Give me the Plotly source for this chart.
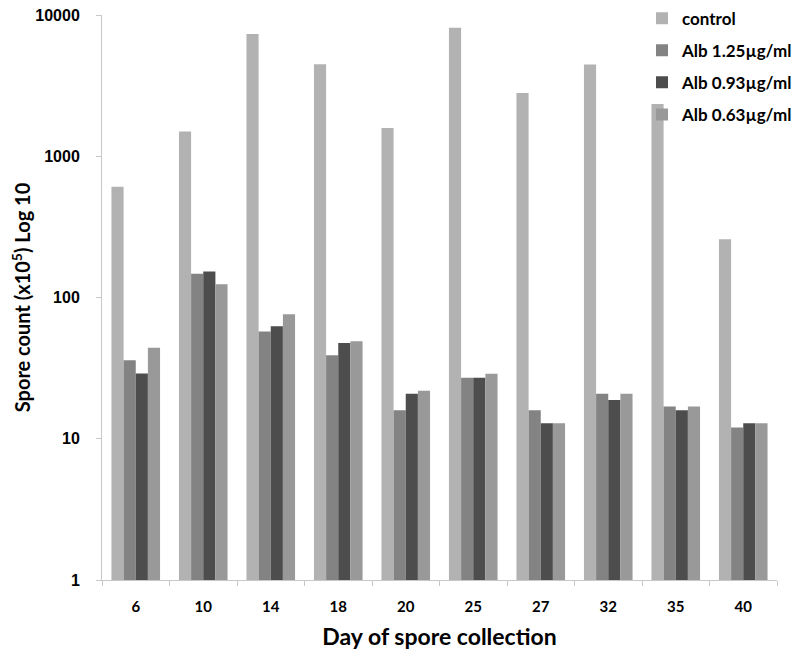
import plotly.graph_objects as go

days = ["6", "10", "14", "18", "20", "25", "27", "32", "35", "40"]
control = [607, 1500, 7350, 4480, 1585, 8130, 2800, 4470, 2340, 258]
alb_125 = [36, 147, 57.5, 39, 15.9, 27, 15.9, 20.8, 16.9, 12]
alb_093 = [29, 153, 62.7, 47.6, 20.8, 27, 12.9, 18.8, 15.9, 12.9]
alb_063 = [44, 124, 76, 49, 21.9, 28.8, 12.9, 20.8, 16.9, 12.9]
y_ticks = [1, 10, 100, 1000, 10000]

series = [
    ("control", control, "#b2b2b2"),
    ("Alb 1.25µg/ml", alb_125, "#838383"),
    ("Alb 0.93µg/ml", alb_093, "#4d4d4d"),
    ("Alb 0.63µg/ml", alb_063, "#999999"),
]

fig = go.Figure()
for i, (name, vals, col) in enumerate(series):
    fig.add_trace(go.Bar(x=days, y=vals, name=name, marker_color=col,
                         marker_line_width=0, legendgroup=f"g{i}"))

# page body has an 8px margin, so the figure is 792x647 drawn at (8, 8)
fig.update_layout(
    width=792, height=647,
    margin=dict(l=94, r=23, t=7, b=75, autoexpand=False),
    plot_bgcolor="white", paper_bgcolor="white",
    barmode="group", bargap=0.28, bargroupgap=0,
    font=dict(family="Lato", color="black"),
    legend=dict(x=0.8, y=1.0255, xanchor="left", yanchor="top",
                font=dict(family="Lato", size=17, weight="bold"),
                tracegroupgap=7, bgcolor="rgba(0,0,0,0)"),
    showlegend=True,
)
fig.update_yaxes(
    type="log", range=[0, 4], tickvals=y_ticks, ticktext=[str(v) for v in y_ticks],
    showgrid=False, zeroline=False, showline=True, linecolor="#c8c8c8", linewidth=1,
    ticks="outside", ticklen=5, tickcolor="#c8c8c8", automargin=False,
    ticklabeloverflow="allow",
    tickfont=dict(family="Liberation Sans", size=16, weight="bold"), ticklabelstandoff=13,
    title=dict(text="Spore count (x10<sup>5</sup>) Log 10",
               font=dict(family="Lato", size=20, weight="bold"), standoff=6),
)
fig.update_xaxes(
    type="category", showgrid=False, zeroline=False, showline=True,
    linecolor="#c8c8c8", linewidth=1, ticks="outside", ticklen=5,
    tickcolor="#c8c8c8", tickson="boundaries", automargin=False,
    ticklabeloverflow="allow",
    tickfont=dict(family="Lato", size=15, weight="bold"), ticklabelstandoff=13,
    title=dict(text="Day of spore collection",
               font=dict(family="Lato", size=23, weight="bold"), standoff=14),
)

fig.write_html("out.html")
